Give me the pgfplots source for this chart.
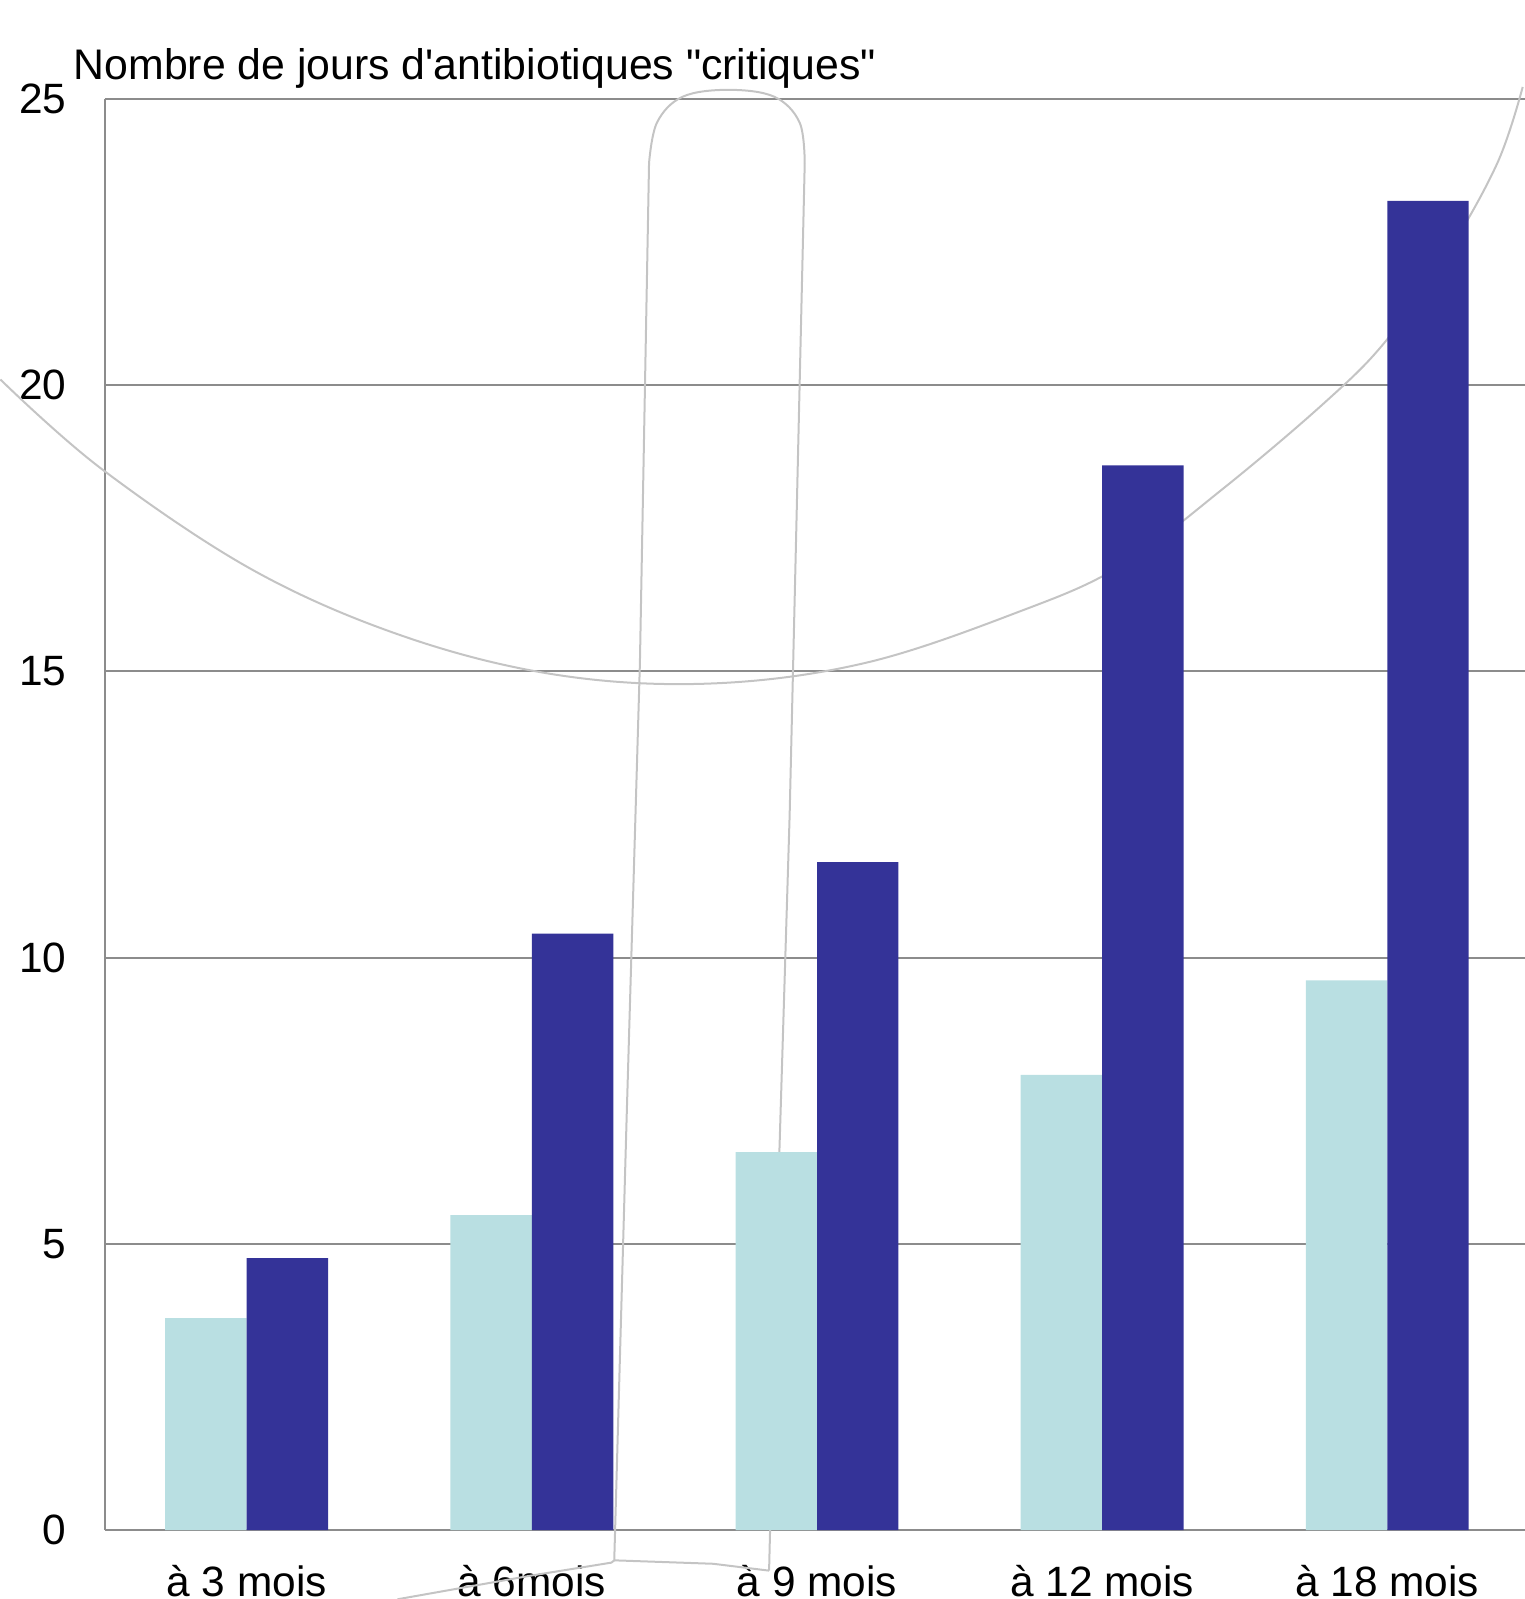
\documentclass[border=0pt]{standalone}
\usepackage{pgfplots}
\pgfplotsset{compat=1.18}
\usepackage{fontspec}
\setmainfont{Liberation Sans}[Ligatures=TeXOff]
\definecolor{lightbar}{HTML}{B9DFE2}
\definecolor{darkbar}{HTML}{343398}
\definecolor{gridgray}{HTML}{8C8C8C}
\definecolor{deco}{HTML}{C4C4C4}
\begin{document}
\begin{tikzpicture}
\begin{axis}[
  name=ax,
  scale only axis,
  width=355pt, height=357.75pt,
  xmin=-0.497, xmax=4.483,
  ymin=0, ymax=25,
  clip=false,
  xtick={0,1,2,3,4},
  xticklabels={à 3 mois, à 6mois, à 9 mois, à 12 mois, à 18 mois},
  ytick={0,5,10,15,20,25},
  major tick length=0pt,
  ymajorgrids,
  grid style={gridgray, line width=0.5pt},
  axis x line*=bottom, axis y line*=left,
  axis line style={gridgray, line width=0.5pt, -},
  /pgf/number format/assume math mode=true,
  ticklabel style={font=\fontsize{10.6}{12}\selectfont},
  yticklabel style={inner sep=0pt, xshift=-9.5pt},
  xticklabel style={inner sep=0pt, anchor=north, yshift=-8.5pt},
]
% faint decorative strokes of the original
\addplot[deco, line width=0.5pt, smooth, tension=0.6, forget plot] coordinates {
 (-0.864,20.10) (-0.507,18.53) (0.029,16.75) (0.564,15.59) (1.100,14.93) (1.636,14.79)
 (2.171,15.15) (2.707,16.04) (3.064,16.84) (3.421,18.18) (3.779,19.69) (3.993,20.76)
 (4.207,22.27) (4.386,23.88) (4.475,25.21)};
\addplot[deco, line width=0.5pt, forget plot] coordinates {
 (0.529,-1.21) (0.993,-0.80) (1.279,-0.57) (1.289,-0.53) (1.332,7.13) (1.379,15.15) (1.411,23.88)};
\addplot[deco, line width=0.5pt, smooth, tension=0.6, forget plot] coordinates {
 (1.411,23.88) (1.439,24.59) (1.529,25.04) (1.689,25.16) (1.850,25.04) (1.939,24.59) (1.957,23.88)};
\addplot[deco, line width=0.5pt, forget plot] coordinates {
 (1.957,23.88) (1.929,17.82) (1.904,12.47) (1.868,6.59) (1.832,-0.71)};
\addplot[deco, line width=0.5pt, forget plot] coordinates {
 (1.289,-0.53) (1.636,-0.59) (1.832,-0.71)};
% bars
\addplot[ybar, bar width=0.2857, bar shift=-0.1429, fill=lightbar, draw=none] coordinates {
 (0,3.7) (1,5.5) (2,6.6) (3,7.95) (4,9.6)};
\addplot[ybar, bar width=0.2857, bar shift=0.1429, fill=darkbar, draw=none] coordinates {
 (0,4.75) (1,10.42) (2,11.67) (3,18.6) (4,23.22)};
\end{axis}
\node[anchor=base west, inner sep=0pt, font=\fontsize{10.7}{13}\selectfont]
  at ([xshift=-8pt, yshift=4.75pt]ax.north west) {Nombre de jours d'antibiotiques "critiques"};
\pgfresetboundingbox
\path ([xshift=-26.25pt, yshift=-17.25pt]ax.south west) rectangle ([yshift=24.75pt]ax.north east);
\end{tikzpicture}
\end{document}
